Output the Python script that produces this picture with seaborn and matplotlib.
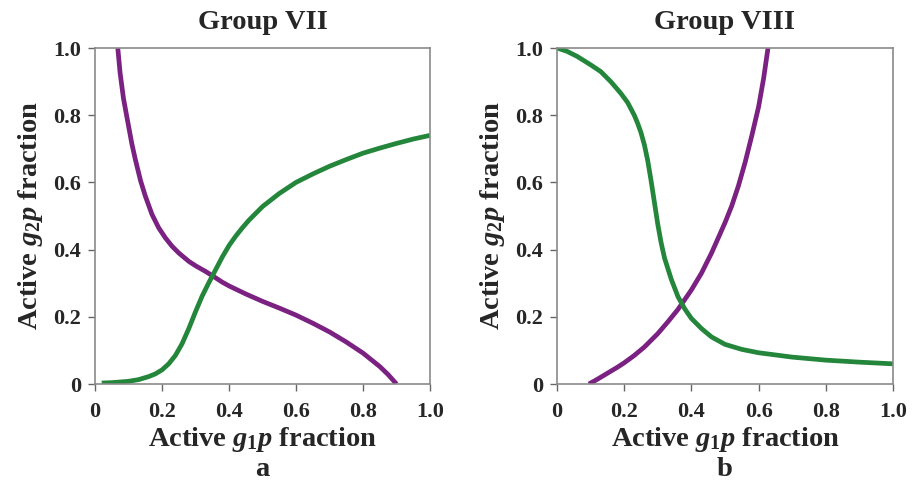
import matplotlib
matplotlib.use("Agg")
import matplotlib.pyplot as plt
import seaborn as sns
import pandas as pd

# ---- data ----
# Group VII
g7_purple_x = [0.068, 0.075, 0.085, 0.096, 0.11, 0.12, 0.136, 0.15, 0.17, 0.19, 0.21, 0.23, 0.25, 0.28, 0.30,
               0.33, 0.354, 0.38, 0.40, 0.45, 0.50, 0.55, 0.60, 0.65, 0.70, 0.75, 0.80, 0.85, 0.875, 0.90]
g7_purple_y = [1.00, 0.925, 0.85, 0.79, 0.715, 0.67, 0.605, 0.56, 0.505, 0.465, 0.435, 0.41, 0.39, 0.365, 0.352,
               0.335, 0.32, 0.303, 0.292, 0.268, 0.246, 0.226, 0.205, 0.181, 0.155, 0.125, 0.092, 0.052, 0.028, 0.00]
g7_green_x = [0.02, 0.05, 0.10, 0.13, 0.16, 0.18, 0.20, 0.22, 0.24, 0.26, 0.28, 0.30, 0.32, 0.34, 0.36, 0.38,
              0.40, 0.42, 0.44, 0.46, 0.50, 0.55, 0.60, 0.65, 0.70, 0.75, 0.80, 0.85, 0.90, 0.95, 1.00]
g7_green_y = [0.003, 0.004, 0.008, 0.013, 0.022, 0.03, 0.042, 0.06, 0.085, 0.12, 0.165, 0.215, 0.262, 0.302,
              0.34, 0.378, 0.412, 0.44, 0.465, 0.488, 0.528, 0.567, 0.60, 0.625, 0.648, 0.668, 0.687, 0.702,
              0.716, 0.729, 0.74]
# Group VIII
g8_green_x = [0.0, 0.03, 0.06, 0.10, 0.13, 0.16, 0.19, 0.21, 0.23, 0.24, 0.25, 0.26, 0.27, 0.28, 0.29, 0.30,
              0.31, 0.32, 0.34, 0.36, 0.38, 0.40, 0.43, 0.46, 0.50, 0.55, 0.60, 0.70, 0.80, 0.90, 1.00]
g8_green_y = [1.0, 0.99, 0.975, 0.95, 0.93, 0.90, 0.865, 0.838, 0.80, 0.776, 0.748, 0.712, 0.665, 0.605, 0.54,
              0.475, 0.42, 0.375, 0.312, 0.26, 0.224, 0.195, 0.165, 0.14, 0.118, 0.103, 0.093, 0.08, 0.071,
              0.065, 0.06]
g8_purple_x = [0.095, 0.12, 0.15, 0.18, 0.20, 0.23, 0.26, 0.30, 0.33, 0.36, 0.40, 0.43, 0.46, 0.50, 0.52,
               0.54, 0.56, 0.58, 0.60, 0.615, 0.628]
g8_purple_y = [0.0, 0.014, 0.032, 0.05, 0.063, 0.085, 0.11, 0.15, 0.185, 0.222, 0.28, 0.33, 0.39, 0.48, 0.53,
               0.59, 0.66, 0.74, 0.825, 0.91, 1.0]

ticks = [0, 0.2, 0.4, 0.6, 0.8, 1.0]
tick_labels = ["0", "0.2", "0.4", "0.6", "0.8", "1.0"]
titles = ["Group VII", "Group VIII"]
panel_labels = ["a", "b"]

PURPLE = "#7A2182"
GREEN = "#23863A"

sns.set_theme(style="white")
plt.rcParams["font.family"] = ["Liberation Serif", "DejaVu Serif"]
plt.rcParams["font.weight"] = "bold"
plt.rcParams["mathtext.fontset"] = "custom"
plt.rcParams["mathtext.rm"] = "Liberation Serif:bold"
plt.rcParams["mathtext.it"] = "Liberation Serif:italic:bold"
plt.rcParams["mathtext.bf"] = "Liberation Serif:bold"

fig = plt.figure(figsize=(9.14, 4.87), dpi=100)
W, H = 914, 487
ax1 = fig.add_axes([95 / W, 1 - 384 / H, 335 / W, 336 / H])
ax2 = fig.add_axes([557 / W, 1 - 384 / H, 336 / W, 336 / H])

curves = [
    [(g7_purple_x, g7_purple_y, PURPLE), (g7_green_x, g7_green_y, GREEN)],
    [(g8_purple_x, g8_purple_y, PURPLE), (g8_green_x, g8_green_y, GREEN)],
]

for ax, cset, title, pl in zip([ax1, ax2], curves, titles, panel_labels):
    for xs, ys, c in cset:
        df = pd.DataFrame({"x": xs, "y": ys})
        sns.lineplot(data=df, x="x", y="y", sort=False, color=c, lw=3.4,
                     ax=ax, solid_capstyle="butt", solid_joinstyle="round")
    ax.set_xlim(0, 1.0)
    ax.set_ylim(0, 1.0)
    ax.set_xticks(ticks)
    ax.set_xticklabels(tick_labels)
    ax.set_yticks(ticks)
    ax.set_yticklabels(tick_labels)
    for s in ax.spines.values():
        s.set_color("#8a8a8a")
        s.set_linewidth(1.2)
    ax.tick_params(axis="both", which="both", direction="out", length=5,
                   width=1.0, color="#666666", labelsize=16, pad=5,
                   bottom=True, left=True)
    ax.tick_params(axis="x", pad=8)
    for lab in ax.get_xticklabels() + ax.get_yticklabels():
        lab.set_fontweight("bold")
    ax.set_title(title, fontsize=20.5, fontweight="bold", pad=14)
    ax.set_xlabel(r"Active $g_1p$ fraction", fontsize=20.5, fontweight="bold", labelpad=2)
    ax.set_ylabel(r"Active $g_2p$ fraction", fontsize=20.5, fontweight="bold", labelpad=6)
    bbox = ax.get_position()
    fig.text((bbox.x0 + bbox.x1) / 2, 1 - 470 / H, pl, ha="center", va="center",
             fontsize=20.5, fontweight="bold")

fig.savefig("out.png", dpi=100)
